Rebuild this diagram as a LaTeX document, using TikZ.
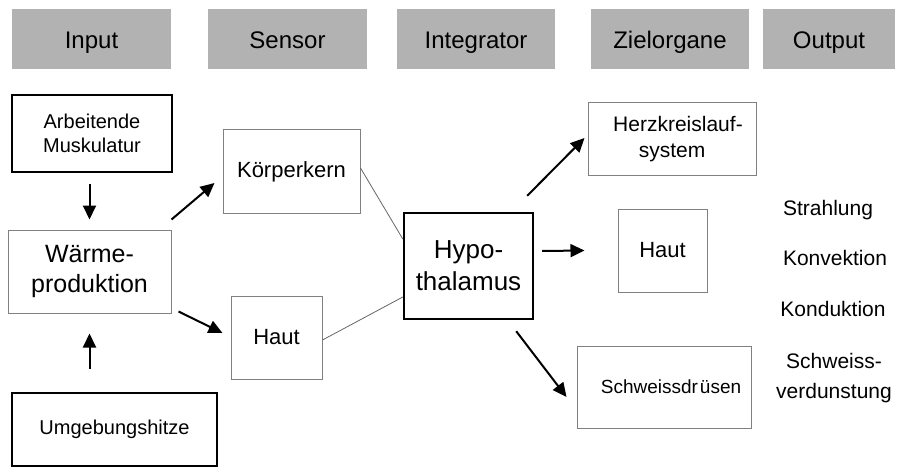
\documentclass[tikz,border=0pt]{standalone}
\usepackage{fontspec}
\setmainfont{Liberation Sans}
\usetikzlibrary{arrows.meta}

\begin{document}
\begin{tikzpicture}[
    x=1pt, y=-1pt,
    >={Triangle[length=14pt, width=13pt]},
    head/.style={fill=black!30, inner sep=0pt, minimum height=60pt, text height=24pt, text depth=4pt, font=\fontsize{24}{28}\selectfont},
    thinbox/.style={draw=black!50, line width=1pt, inner sep=0pt, align=center},
    thickbox/.style={draw=black, line width=2.4pt, inner sep=0pt, align=center},
    flow_arrow/.style={->, line width=2pt},
    link_line/.style={draw=black!60, line width=0.8pt},
    out_text/.style={align=center, font=\fontsize{21}{30}\selectfont}
]
\useasboundingbox (0,0) rectangle (897,468);

% Kopfzeile
\node[head, minimum width=159pt] (h_input) at (91.5,39) {Input};
\node[head, minimum width=159pt] (h_sensor) at (287.5,39) {Sensor};
\node[head, minimum width=158pt] (h_integr) at (476,39) {Integrator};
\node[head, minimum width=158pt] (h_ziel) at (670,39) {Zielorgane};
\node[head, minimum width=132pt] (h_output) at (829,39) {Output};

% Input
\node[thickbox, minimum width=160pt, minimum height=77pt, font=\fontsize{20}{24}\selectfont] (muskel) at (92,133.5) {Arbeitende\\Muskulatur};
\node[thinbox, minimum width=163pt, minimum height=83pt, font=\fontsize{25}{30}\selectfont] (waerme) at (89.5,271.5) {Wärme-\\produktion};
\node[thickbox, minimum width=205pt, minimum height=73pt, font=\fontsize{20}{24}\selectfont] (umgebung) at (114.5,429.5) {Umgebungshitze};

% Sensor
\node[thinbox, minimum width=137pt, minimum height=83pt, font=\fontsize{22}{26}\selectfont] (koerper) at (291.5,171.5) {Körperkern};
\node[thinbox, minimum width=91pt, minimum height=83pt, font=\fontsize{22}{26}\selectfont] (haut_s) at (276.5,337.5) {Haut};

% Integrator
\node[thickbox, minimum width=129pt, minimum height=106pt, font=\fontsize{26}{32}\selectfont] (hypo) at (468.5,266) {Hypo-\\thalamus};

% Zielorgane
\node[thinbox, minimum width=168pt, minimum height=72pt, font=\fontsize{21}{26}\selectfont] (herz) at (672,139) {\hspace*{12pt}Herzkreislauf-\\system};
\node[thinbox, minimum width=89pt, minimum height=83pt, font=\fontsize{22}{26}\selectfont] (haut_z) at (662.5,250.5) {Haut};
\node[thinbox, minimum width=174pt, minimum height=82pt, font=\fontsize{19}{24}\selectfont] (schweiss) at (664,387) {\hspace*{14pt}Schweissdr\kern2pt üsen};

% Output
\node[out_text] (strahlung) at (828,210) {Strahlung};
\node[out_text] (konvektion) at (835,258) {Konvektion};
\node[out_text] (konduktion) at (833,309) {Konduktion};
\node[out_text] (verdunst) at (834,378) {Schweiss-\\verdunstung};

% Pfeile
\draw[flow_arrow, shorten <=11pt, shorten >=10pt] (waerme.north |- muskel.south) -- (waerme.north);
\draw[flow_arrow, shorten <=23pt, shorten >=20pt] (waerme.south |- umgebung.north) -- (waerme.south);
\draw[flow_arrow] ([yshift=10pt]waerme.north east) -- ([xshift=-8pt, yshift=-11.5pt]koerper.west);
\draw[flow_arrow] ([xshift=7pt, yshift=2pt]waerme.south east) -- ([xshift=-8pt, yshift=4.5pt]haut_s.west);
\draw[flow_arrow] ([xshift=-7pt, yshift=16pt]hypo.north east) -- ([xshift=-3pt, yshift=1pt]herz.west);
\draw[flow_arrow] ([xshift=8pt, yshift=15pt]hypo.east) -- ([xshift=-33pt]haut_z.west);
\draw[flow_arrow] ([xshift=-18pt, yshift=-11pt]hypo.south east) -- ([xshift=-10pt, yshift=-10pt]schweiss.west);

% Verbindungen zum Hypothalamus
\draw[link_line] ([yshift=3.5pt]koerper.east) -- ([yshift=27pt]hypo.west);
\draw[link_line] ([yshift=-2.5pt]haut_s.east) -- ([yshift=-31pt]hypo.west);

\end{tikzpicture}
\end{document}
